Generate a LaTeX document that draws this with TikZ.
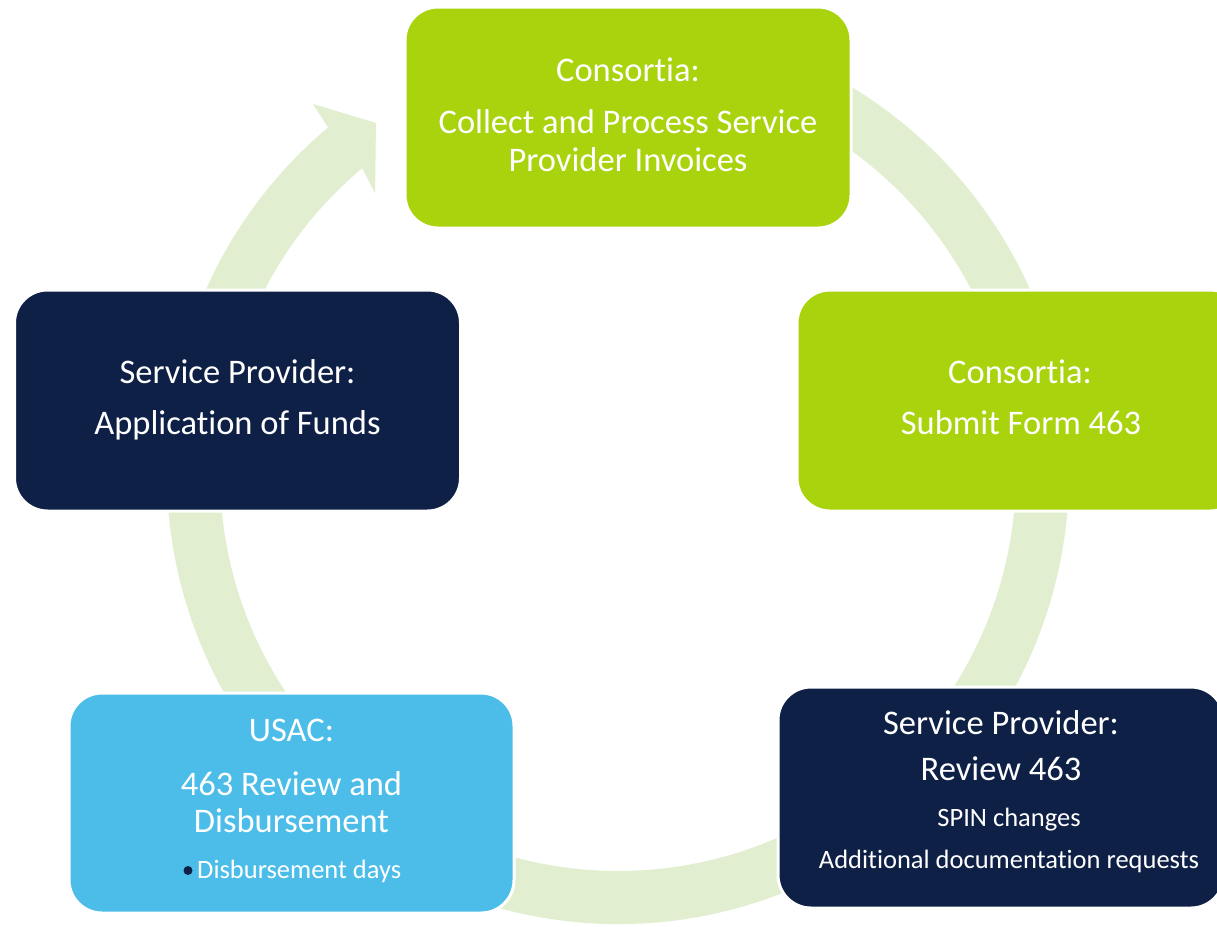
\documentclass[tikz,border=0pt]{standalone}
\usepackage{fontspec}
\setmainfont{Carlito}[Ligatures={NoCommon,NoContextual}]
\usetikzlibrary{calc}
\definecolor{cgreen}{HTML}{A9D30D}
\definecolor{cnavy}{HTML}{0F2046}
\definecolor{cblue}{HTML}{4CBDE9}
\definecolor{cring}{HTML}{E1EECF}
\begin{document}
\begin{tikzpicture}[x=1pt,y=1pt,
  box/.style={rounded corners=33pt, draw=white, line width=3pt, inner sep=0pt, outer sep=0pt, minimum width=446pt, minimum height=221pt},
  big/.style={text=white, inner sep=0pt, anchor=base, font=\fontsize{34.5}{40}\selectfont},
  small/.style={text=white, inner sep=0pt, anchor=base, font=\fontsize{26.5}{30}\selectfont}]
\useasboundingbox (0,0) rectangle (1217,-926);
\clip (0,0) rectangle (1217,-926);
\fill[white] (0,0) rectangle (1217,-926);
% circular arrow
\coordinate (c) at (618,-473);
\coordinate (wingout) at (313,-104);
\coordinate (tip) at (376,-123);
\coordinate (wingin) at (375,-193);
\fill[cring] ($(c)+(80:451)$) arc[start angle=80, end angle=-230, radius=451]
  -- (wingout) -- (tip) -- (wingin) -- ($(c)+(130:398)$)
  arc[start angle=130, end angle=440, radius=398] -- cycle;
% boxes
\node[box, fill=cgreen] (collect) at (628,-117.5) {};
\node[box, fill=cgreen] (submit) at (1020,-400.5) {};
\node[box, fill=cnavy] (review) at (1001,-797.5) {};
\node[box, fill=cblue, minimum width=445pt, minimum height=220pt] (usac) at (291.5,-803) {};
\node[box, fill=cnavy] (apply) at (237.5,-400.5) {};
% texts
\node[big] (t1a) at (628,-81.7) {Consor{}tia:};
\node[big] (t1b) at (628,-133.3) {Collect and Process Service};
\node[big] (t1c) at (628,-171.7) {Provider Invoices};
\node[big] (t2a) at (1020,-383.3) {Consor{}tia:};
\node[big] (t2b) at (1021,-434) {Submit Form 463};
\node[big] (t3a) at (1001,-734.3) {Service Provider:};
\node[big] (t3b) at (1001,-780) {Review 463};
\node[small] (t3c) at (1009,-826.7) {SPIN changes};
\node[small] (t3d) at (1009,-868.3) {Additional documenta{}tion requests};
\node[big] (t4a) at (291.5,-741.7) {USAC:};
\node[big] (t4b) at (291.5,-795) {463 Review and};
\node[big] (t4c) at (291.5,-832.7) {Disbursement};
\node[small, anchor=base west] (t4d) at (197,-878.3) {Disbursement days};
\node[circle, fill=cnavy, inner sep=0pt, minimum size=9pt] (dot) at (188,-870.5) {};
\node[big] (t5a) at (237.5,-383.3) {Service Provider:};
\node[big] (t5b) at (237.5,-434) {Applica{}tion of Funds};
\end{tikzpicture}
\end{document}
